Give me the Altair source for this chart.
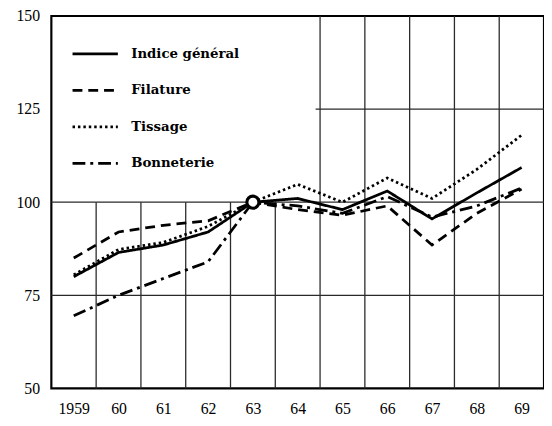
import altair as alt
import pandas as pd

years = [1959, 1960, 1961, 1962, 1963, 1964, 1965, 1966, 1967, 1968, 1969]
series_names = ["Indice général", "Filature", "Tissage", "Bonneterie"]
indice_general = [80.0, 86.5, 88.5, 92.0, 100.0, 101.0, 98.0, 103.0, 95.5, 102.5, 109.3]
filature = [85.0, 92.0, 93.8, 95.0, 100.0, 98.0, 96.5, 99.0, 88.5, 97.0, 103.5]
tissage = [80.5, 87.3, 89.2, 93.5, 100.0, 104.8, 100.0, 106.5, 101.0, 108.8, 118.0]
bonneterie = [69.5, 75.0, 79.5, 84.0, 100.0, 99.0, 97.0, 101.5, 96.0, 99.0, 103.8]

y_ticks = [50, 75, 100, 125, 150]
x_ticks = [1959, 1960, 1961, 1962, 1963, 1964, 1965, 1966, 1967, 1968, 1969]

base_year = [1963]
base_value = [100]

# grid structure of the original figure
vgrid_low = [1959.5, 1960.5, 1961.5, 1962.5, 1963.5]
vgrid_full = [1964.5, 1965.5, 1966.5, 1967.5, 1968.5]
hgrid_full = [75, 100]
hgrid_part = [125]

rows = []
for name, vals in zip(series_names, [indice_general, filature, tissage, bonneterie]):
    for yr, v in zip(years, vals):
        rows.append({"year": yr, "value": v, "series": name})
df = pd.DataFrame(rows)

xs = alt.Scale(domain=[1958.5, 1969.5], nice=False, zero=False)
ys = alt.Scale(domain=[50, 150], nice=False, zero=False)

x_axis = alt.Axis(
    values=x_ticks,
    title=None,
    grid=False,
    ticks=False,
    domain=False,
    labelExpr="datum.value == 1959 ? '1959' : substring(toString(datum.value), 2, 4)",
    labelFont="Liberation Serif",
    labelFontSize=16,
    labelColor="black",
    labelPadding=12,
)
y_axis = alt.Axis(
    values=y_ticks,
    title=None,
    grid=False,
    ticks=False,
    domain=False,
    labelFont="Liberation Serif",
    labelFontSize=16,
    labelColor="black",
    labelPadding=12,
)

grid_color = "#2a2a2a"

vlow = alt.Chart(pd.DataFrame({"x": vgrid_low, "y1": [50] * 5, "y2": [100] * 5})).mark_rule(
    color=grid_color, strokeWidth=1.3
).encode(x=alt.X("x:Q", scale=xs, axis=x_axis), y=alt.Y("y1:Q", scale=ys, axis=y_axis), y2="y2:Q")

vfull = alt.Chart(pd.DataFrame({"x": vgrid_full, "y1": [50] * 5, "y2": [150] * 5})).mark_rule(
    color=grid_color, strokeWidth=1.3
).encode(x=alt.X("x:Q", scale=xs, axis=x_axis), y=alt.Y("y1:Q", scale=ys, axis=y_axis), y2="y2:Q")

hfull = alt.Chart(pd.DataFrame({"y": hgrid_full, "x1": [1958.5] * 2, "x2": [1969.5] * 2})).mark_rule(
    color=grid_color, strokeWidth=1.3
).encode(y=alt.Y("y:Q", scale=ys, axis=y_axis), x=alt.X("x1:Q", scale=xs, axis=x_axis), x2="x2:Q")

hpart = alt.Chart(pd.DataFrame({"y": hgrid_part, "x1": [1964.4], "x2": [1969.5]})).mark_rule(
    color=grid_color, strokeWidth=1.3
).encode(y=alt.Y("y:Q", scale=ys, axis=y_axis), x=alt.X("x1:Q", scale=xs, axis=x_axis), x2="x2:Q")

lines = alt.Chart(df).mark_line(color="black", strokeWidth=2.8).encode(
    x=alt.X("year:Q", scale=xs, axis=x_axis),
    y=alt.Y("value:Q", scale=ys, axis=y_axis),
    strokeDash=alt.StrokeDash(
        "series:N",
        scale=alt.Scale(
            domain=series_names,
            range=[[1, 0], [10, 6], [2.5, 3], [13, 5, 3, 5]],
        ),
        legend=alt.Legend(
            title=None,
            orient="none",
            legendX=20,
            legendY=14,
            symbolType="stroke",
            symbolSize=2116,
            symbolStrokeWidth=2.8,
            symbolStrokeColor="black",
            labelFont="DejaVu Serif",
            labelFontWeight="bold",
            labelFontSize=13.5,
            labelColor="black",
            labelOffset=12,
            rowPadding=6,
        ),
    ),
    detail="series:N",
)

marker = alt.Chart(pd.DataFrame({"year": base_year, "value": base_value})).mark_point(
    shape="circle", filled=False, fill="white", fillOpacity=1, stroke="black", strokeWidth=3.2, size=150, opacity=1
).encode(x=alt.X("year:Q", scale=xs, axis=x_axis), y=alt.Y("value:Q", scale=ys, axis=y_axis))

chart = alt.layer(vlow, vfull, hfull, hpart, lines, marker).properties(
    width=500,
    height=378,
    autosize=alt.AutoSizeParams(type="none"),
    padding={"left": 44, "top": 5, "right": 0, "bottom": 30},
    background="white",
).configure_view(stroke="black", strokeWidth=2.2)

chart.save("out.html", embed_options={"renderer": "svg", "actions": False})
